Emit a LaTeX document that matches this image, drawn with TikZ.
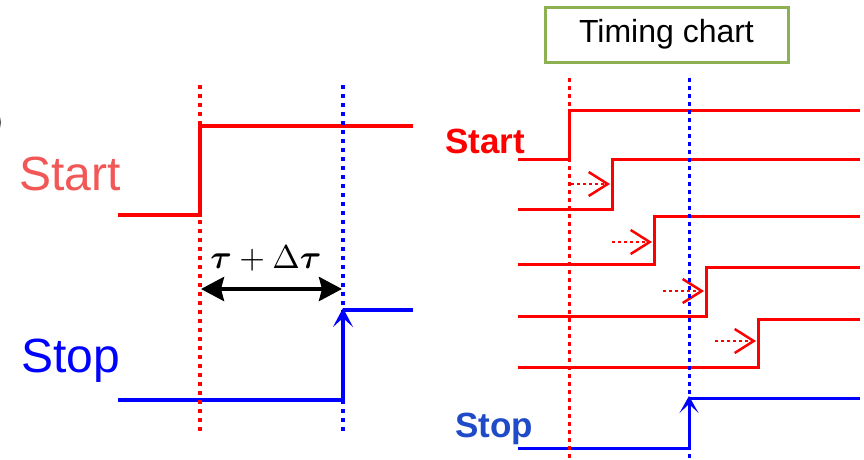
\documentclass[tikz,border=0pt]{standalone}
\usepackage{fontspec}
\setmainfont{Liberation Sans}
\usepackage{amsmath,bm}
\usetikzlibrary{arrows.meta}
\definecolor{sred}{HTML}{FF0000}
\definecolor{lred}{HTML}{F25757}
\definecolor{sblue}{HTML}{0000FF}
\definecolor{dblue}{HTML}{1F4AC8}
\definecolor{boxgreen}{HTML}{8CB052}
\tikzset{
  sigL/.style={line width=4pt, line join=miter},
  sigR/.style={line width=3pt, line join=miter},
  dotL/.style={line width=3.5pt, dash pattern=on 4pt off 5pt},
  dotR/.style={line width=3pt, dash pattern=on 4pt off 4pt},
  delay/.style={sred, line width=2.5pt, dash pattern=on 3pt off 3pt,
    -{Straight Barb[length=19pt,width=24pt,line width=2.5pt]}},
  lbl/.style={inner sep=0pt, anchor=base west},
}
\begin{document}
\begin{tikzpicture}[x=1pt,y=-1pt]
\useasboundingbox (0,0) rectangle (864,459);
% cropped fragment at the left edge
\draw[gray!70!black, line width=2pt] (-3,114) .. controls (1,119) and (1,126) .. (-3,131);
% ---------------- Left panel ----------------
\node[lbl, text=lred, font=\fontsize{48}{50}\selectfont] (startL) at (19,190) {Start};
\node[lbl, text=sblue, font=\fontsize{48}{50}\selectfont] (stopL) at (21,372) {Stop};
\draw[sigL, sred] (118,215) -- (200,215) -- (200,126) -- (413,126);
\draw[sigL, sblue] (118,400) -- (343,400);
\coordinate (stopfoot) at (343,400);
\coordinate (stoptop) at (343,308);
\draw[sigL, sblue, -{Stealth[length=19pt,width=20pt,inset=9pt]}] (stopfoot) -- (stoptop);
\draw[sigL, sblue] (343,310) -- (413,310);
\coordinate (rL1) at (200,85); \coordinate (rL2) at (200,432);
\coordinate (bL1) at (343,85); \coordinate (bL2) at (343,432);
\draw[dotL, sred] (rL1) -- (rL2);
\draw[dotL, sblue] (bL1) -- (bL2);
\coordinate (dA) at (201,289); \coordinate (dB) at (342,289);
\draw[line width=4pt, {Stealth[length=23pt,width=24pt,inset=3pt]}-{Stealth[length=23pt,width=24pt,inset=3pt]}] (dA) -- (dB);
\node[inner sep=0pt, anchor=base, scale=3.3] (tau) at (266,268)
  {$\bm{\tau}+\Delta\bm{\tau}$};
% ---------------- Right panel ----------------
\node[draw=boxgreen, line width=3pt, minimum width=243pt, minimum height=55pt, inner sep=0pt,
  font=\fontsize{32}{34}\selectfont] (tc) at (666.5,34.5) {Timing chart};
\node[lbl, text=sred, font=\bfseries\fontsize{35}{37}\selectfont] (startR) at (445,153) {Start};
\node[lbl, text=dblue, font=\bfseries\fontsize{35}{37}\selectfont] (stopR) at (455,437) {Stop};
\draw[sigR, sred] (518,159) -- (569,159) -- (569,110) -- (860,110);
\draw[sigR, sred] (518,209) -- (612,209) -- (612,159) -- (860,159);
\draw[sigR, sred] (518,264) -- (654,264) -- (654,216) -- (860,216);
\draw[sigR, sred] (518,316) -- (706,316) -- (706,267) -- (860,267);
\draw[sigR, sred] (518,367) -- (758,367) -- (758,319) -- (860,319);
\coordinate (d1a) at (571,184); \coordinate (d1b) at (610,184);
\coordinate (d2a) at (612,242); \coordinate (d2b) at (652,242);
\coordinate (d3a) at (663,291); \coordinate (d3b) at (704,291);
\coordinate (d4a) at (715,341); \coordinate (d4b) at (756,341);
\draw[delay] (d1a) -- (d1b);
\draw[delay] (d2a) -- (d2b);
\draw[delay] (d3a) -- (d3b);
\draw[delay] (d4a) -- (d4b);
\draw[sigR, sblue] (518,448) -- (689,448);
\coordinate (sRfoot) at (689,448); \coordinate (sRtop) at (689,396);
\draw[sigR, sblue, -{Stealth[length=17pt,width=19pt,inset=9pt]}] (sRfoot) -- (sRtop);
\draw[sigR, sblue] (689,398) -- (860,398);
\coordinate (rR1) at (569,78); \coordinate (rR2) at (569,459);
\coordinate (bR1) at (689,78); \coordinate (bR2) at (689,459);
\draw[dotR, sred] (rR1) -- (rR2);
\draw[dotR, sblue] (bR1) -- (bR2);
\end{tikzpicture}
\end{document}
